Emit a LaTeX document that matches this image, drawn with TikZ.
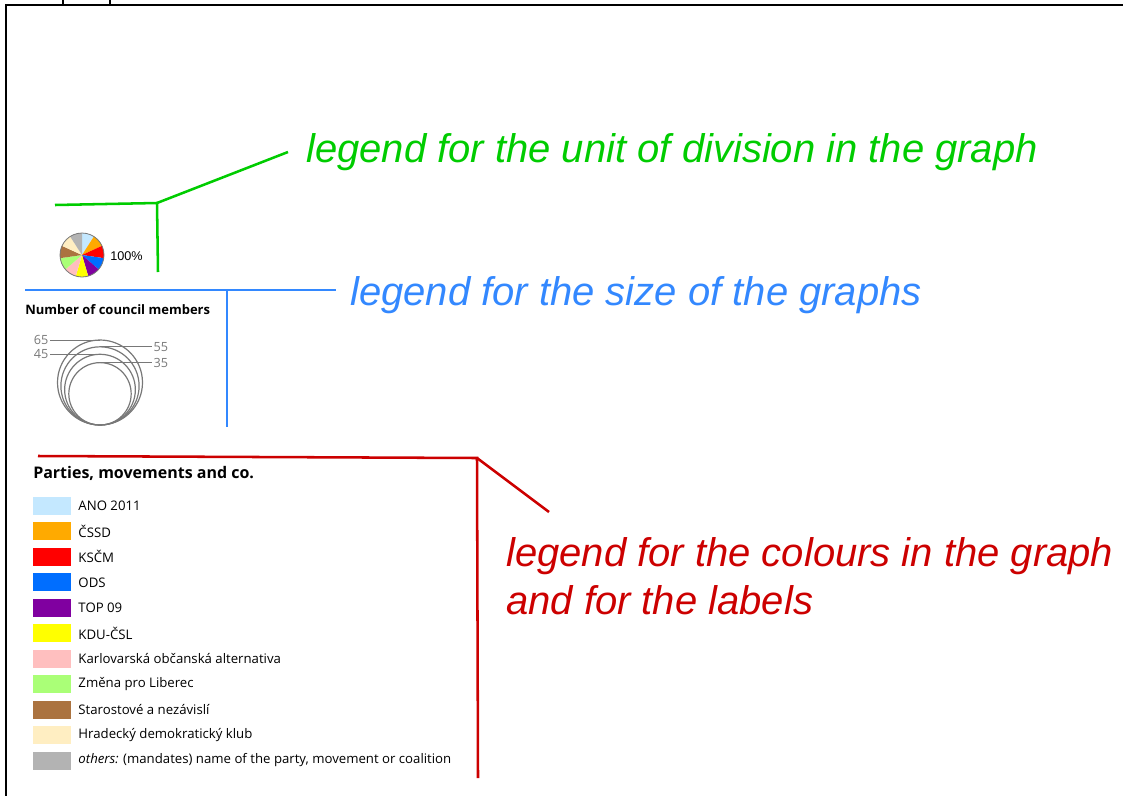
\documentclass[tikz,border=0pt]{standalone}
\usepackage{fontspec}
\setmainfont{Open Sans}
\newfontfamily\notefont{Liberation Sans}
\usetikzlibrary{positioning, calc}

\definecolor{notegreen}{RGB}{0,204,0}
\definecolor{noteblue}{RGB}{51,136,255}
\definecolor{notered}{RGB}{204,0,0}
\definecolor{pAno}{RGB}{196,232,255}
\definecolor{pCssd}{RGB}{255,170,0}
\definecolor{pKscm}{RGB}{255,0,0}
\definecolor{pOds}{RGB}{0,110,255}
\definecolor{pTop}{RGB}{128,0,160}
\definecolor{pKdu}{RGB}{255,255,0}
\definecolor{pKoa}{RGB}{255,191,191}
\definecolor{pZpl}{RGB}{170,255,119}
\definecolor{pStan}{RGB}{171,115,64}
\definecolor{pHdk}{RGB}{255,238,194}
\definecolor{pOther}{RGB}{179,179,179}
\definecolor{ringgray}{RGB}{120,120,120}

\tikzset{
    frameline/.style={line width=1.8pt, black},
    pointer/.style={line width=1.9pt},
    note/.style={font=\notefont\itshape\fontsize{30}{36}\selectfont, anchor=base west, inner sep=0pt},
    heading/.style={font=\bfseries\fontsize{9.75}{11}\selectfont, anchor=base west, inner sep=0pt},
    ring/.style={draw=ringgray, line width=0.9pt},
    numlabel/.style={font=\fontsize{9.5}{11}\selectfont, text=ringgray, inner sep=1pt},
    swatch/.style={minimum width=28.5pt, minimum height=13.5pt, inner sep=0pt, anchor=west},
    partylabel/.style={font=\fontsize{9.9}{11}\selectfont, inner sep=0pt, anchor=west, right=5pt of #1}
}

\begin{document}
\begin{tikzpicture}[x=0.75pt, y=-0.75pt]

    \useasboundingbox (0,0) rectangle (1123,796);

    % --- FRAME ---
    \coordinate (frameTL) at (6,5);
    \coordinate (frameTR) at (1123,5);
    \coordinate (frameBL) at (6,796);
    \draw[frameline] (frameTR) -- (frameTL) -- (frameBL);
    \draw[line width=0.8pt] (63,0) -- (63,5);
    \draw[line width=0.8pt] (110,0) -- (110,5);

    % --- UNIT OF DIVISION (pie) ---
    \coordinate (pie) at (82,255);
    \foreach \col [count=\i] in {pAno,pCssd,pKscm,pOds,pTop,pKdu,pKoa,pZpl,pStan,pHdk,pOther}
        \fill[\col] (pie) -- ($(pie)+({-90+(\i-1)*360/11}:22)$)
            arc[start angle={-90+(\i-1)*360/11}, end angle={-90+\i*360/11}, radius=22] -- cycle;
    \draw[ringgray, line width=0.6pt] (pie) circle (22);
    \node[font=\notefont\fontsize{9.5}{11}\selectfont, anchor=west, inner sep=0pt] (pct) at (110,256) {100\%};

    % green pointer and note
    \node[note, text=notegreen] (greennote) at (306,162) {legend for the unit of division in the graph};
    \coordinate (gLeft) at (55,205);
    \coordinate (gJoint) at (157,203);
    \coordinate (gDown) at (158,272);
    \coordinate (gTip) at (288,152);
    \draw[pointer, notegreen] (gLeft) -- (gJoint) -- (gDown);
    \draw[pointer, notegreen] (gJoint) -- (gTip);

    % --- SIZE OF THE GRAPHS (rings) ---
    \node[heading] (sizehead) at (25,314) {Number of council members};
    \foreach \v in {65,55,45,35} {
        \pgfmathsetmacro\r{42.5*sqrt(\v/65)}
        \draw[ring] (100,{425-\r}) circle (\r);
        \coordinate (top\v) at (100,{425-2*\r});
    }
    \node[numlabel, anchor=east] (n65) at ($(top65)-(50,0)$) {65};
    \node[numlabel, anchor=east] (n45) at ($(top45)-(50,0)$) {45};
    \node[numlabel, anchor=west] (n55) at ($(top55)+(52,0)$) {55};
    \node[numlabel, anchor=west] (n35) at ($(top35)+(52,0)$) {35};
    \draw[ringgray, line width=0.6pt] (n65) -- (top65);
    \draw[ringgray, line width=0.6pt] (n45) -- (top45);
    \draw[ringgray, line width=0.6pt] (top55) -- (n55);
    \draw[ringgray, line width=0.6pt] (top35) -- (n35);

    % blue pointer and note
    \node[note, text=noteblue] (bluenote) at (350,305) {legend for the size of the graphs};
    \coordinate (bLeft) at (25,290);
    \coordinate (bJoint) at (227,290);
    \coordinate (bRight) at (336,290);
    \coordinate (bDown) at (227,427);
    \draw[pointer, noteblue] (bLeft) -- (bRight);
    \draw[pointer, noteblue] (bJoint) -- (bDown);

    % --- COLOURS AND LABELS (parties) ---
    \node[heading, font=\bfseries\fontsize{12}{14}\selectfont] (partyhead) at (33,478) {Parties, movements and co.};
    \foreach \col/\name [count=\i] in {
        pAno/ANO 2011,
        pCssd/ČSSD,
        pKscm/KSČM,
        pOds/ODS,
        pTop/TOP 09,
        pKdu/KDU-ČSL,
        pKoa/Karlovarská občanská alternativa,
        pZpl/Změna pro Liberec,
        pStan/Starostové a nezávislí,
        pHdk/Hradecký demokratický klub,
        pOther/{\textit{others:} (mandates) name of the party, movement or coalition}} {
        \node[swatch, fill=\col] (sw\i) at (33,{506+(\i-1)*25.45}) {};
        \node[partylabel=sw\i] (lab\i) {\name};
    }

    % red pointer and note
    \node[note, text=notered] (rednote) at (506,566) {legend for the colours in the graph};
    \node[note, text=notered] (rednote2) at (506,614) {and for the labels};
    \coordinate (rLeft) at (38,456);
    \coordinate (rJoint) at (477,458);
    \coordinate (rDown) at (478,778);
    \coordinate (rTip) at (549,512);
    \draw[pointer, notered] (rLeft) -- (rJoint) -- (rDown);
    \draw[pointer, notered] (rJoint) -- (rTip);

\end{tikzpicture}
\end{document}
